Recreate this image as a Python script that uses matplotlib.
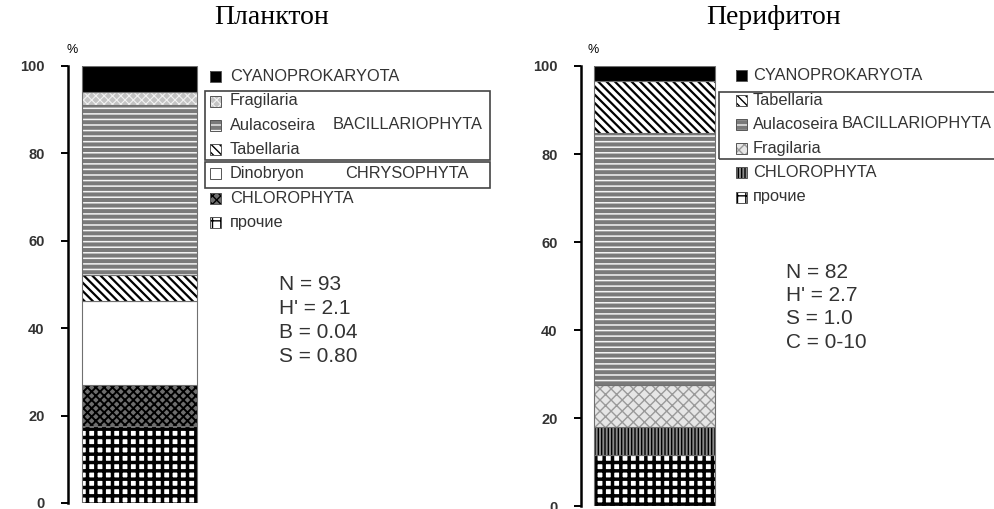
import matplotlib
matplotlib.use("Agg")
import matplotlib.pyplot as plt
from matplotlib.patches import Rectangle

W, H = 995, 509

# stacked shares, bottom to top (%)
plankton_taxa = ['прочие', 'CHLOROPHYTA', 'Dinobryon', 'Tabellaria',
                 'Aulacoseira', 'Fragilaria', 'CYANOPROKARYOTA']
plankton_vals = [17.5, 9.5, 19.2, 6.0, 38.8, 3.0, 6.0]
plankton_stats = ['N = 93', "H' = 2.1", 'B = 0.04', 'S = 0.80']

periphyton_taxa = ['прочие', 'CHLOROPHYTA', 'Fragilaria', 'Aulacoseira',
                   'Tabellaria', 'CYANOPROKARYOTA']
periphyton_vals = [11.6, 6.4, 9.5, 57.2, 11.8, 3.5]
periphyton_stats = ['N = 82', "H' = 2.7", 'S = 1.0', 'C = 0-10']

yticks = [0, 20, 40, 60, 80, 100]

# fill styles: facecolor, hatch, hatch colour, hatch linewidth
styles_plankton = {
    'CYANOPROKARYOTA': ('black', None, 'black', 1.0),
    'Fragilaria': ('#c4c4c4', 'xxxx', '#f2f2f2', 0.8),
    'Aulacoseira': ('#7a7a7a', '---', '#f4f4f4', 1.1),
    'Tabellaria': ('white', '\\\\\\\\', 'black', 1.6),
    'Dinobryon': ('white', None, 'white', 1.0),
    'CHLOROPHYTA': ('#6e6e6e', 'xxxx', 'black', 1.4),
    'прочие': ('white', '++', 'black', 2.5),
}
styles_periphyton = {
    'CYANOPROKARYOTA': ('black', None, 'black', 1.0),
    'Tabellaria': ('white', '\\\\\\\\', 'black', 1.6),
    'Aulacoseira': ('#7a7a7a', '---', '#f4f4f4', 1.1),
    'Fragilaria': ('#e6e6e6', 'xxx', '#9a9a9a', 1.0),
    'CHLOROPHYTA': ('#8a8a8a', '|||||', 'black', 1.0),
    'прочие': ('white', '++', 'black', 2.5),
}

plt.rcParams['font.family'] = ['Liberation Sans', 'DejaVu Sans']

fig = plt.figure(figsize=(W / 100, H / 100), dpi=100)


def fx(px):
    return px / W


def fy(py):
    return 1 - py / H


def panel(left, right, top, bottom, bar_l, bar_r, taxa, vals, styles):
    ax = fig.add_axes([fx(left), fy(bottom), fx(right - left), fy(top) - fy(bottom)])
    ax.set_xlim(left, right)
    ax.set_ylim(0, 100)
    base = 0
    for name, v in zip(taxa, vals):
        fc, hatch, hc, hlw = styles[name]
        with plt.rc_context({'hatch.linewidth': hlw}):
            ax.bar(bar_l, v, width=bar_r - bar_l, bottom=base, align='edge',
                   color=fc, hatch=hatch, edgecolor=hc, linewidth=0)
        ax.bar(bar_l, v, width=bar_r - bar_l, bottom=base, align='edge',
               fill=False, edgecolor='#707070', linewidth=0.8)
        base += v
    for s in ['top', 'right', 'bottom']:
        ax.spines[s].set_visible(False)
    ax.spines['left'].set_linewidth(1.8)
    ax.set_xticks([])
    ax.set_yticks(yticks)
    ax.tick_params(axis='y', direction='out', length=5, width=1.4, pad=12,
                   labelsize=10.5, labelcolor='#333333')
    for lab in ax.get_yticklabels():
        lab.set_fontweight('bold')
    return ax


panel(68, 205, 65.6, 503, 82, 197, plankton_taxa, plankton_vals, styles_plankton)
panel(581, 720, 66, 506, 594, 715, periphyton_taxa, periphyton_vals, styles_periphyton)


def legend(entries, styles, px, tx, y0, dy):
    for i, name in enumerate(entries):
        y = y0 + dy * i
        fc, hatch, hc, hlw = styles[name]
        with plt.rc_context({'hatch.linewidth': min(hlw, 1.0)}):
            fig.patches.append(Rectangle((fx(px), fy(y + 5.5)), fx(11), fy(0) - fy(11),
                                         transform=fig.transFigure, facecolor=fc,
                                         hatch=hatch, edgecolor=hc, linewidth=0))
        fig.patches.append(Rectangle((fx(px), fy(y + 5.5)), fx(11), fy(0) - fy(11),
                                     transform=fig.transFigure, fill=False,
                                     edgecolor='#555555', linewidth=0.7))
        fig.text(fx(tx), fy(y), name, fontsize=11.8, color='#333333', va='center')


def box(x0, y0, x1, y1):
    fig.patches.append(Rectangle((fx(x0), fy(y1)), fx(x1 - x0), fy(y0) - fy(y1),
                                 transform=fig.transFigure, fill=False,
                                 edgecolor='#444444', linewidth=1.2))


legend(plankton_taxa[::-1], styles_plankton, 210, 230, 76.7, 24.3)
box(205, 91, 490, 160)
box(205, 162, 490, 188)
fig.text(fx(333), fy(124.7), 'BACILLARIOPHYTA', fontsize=11.8, color='#333333', va='center')
fig.text(fx(345), fy(174), 'CHRYSOPHYTA', fontsize=11.8, color='#333333', va='center')

legend(periphyton_taxa[::-1], styles_periphyton, 736, 753, 76, 24.2)
box(719, 92, 1000, 159)
fig.text(fx(842), fy(124), 'BACILLARIOPHYTA', fontsize=11.8, color='#333333', va='center')

for i, s in enumerate(plankton_stats):
    fig.text(fx(279), fy(285 + 24 * i), s, fontsize=15, color='#333333', va='center')
for i, s in enumerate(periphyton_stats):
    fig.text(fx(786), fy(272 + 23.5 * i), s, fontsize=15, color='#333333', va='center')

fig.text(fx(72), fy(50), '%', fontsize=9, ha='center', va='center')
fig.text(fx(593), fy(50), '%', fontsize=9, ha='center', va='center')

fig.text(fx(272), fy(17), 'Планктон', fontsize=20, family='Liberation Serif',
         ha='center', va='center')
fig.text(fx(774), fy(17), 'Перифитон', fontsize=20, family='Liberation Serif',
         ha='center', va='center')

fig.savefig('out.png', dpi=100)
